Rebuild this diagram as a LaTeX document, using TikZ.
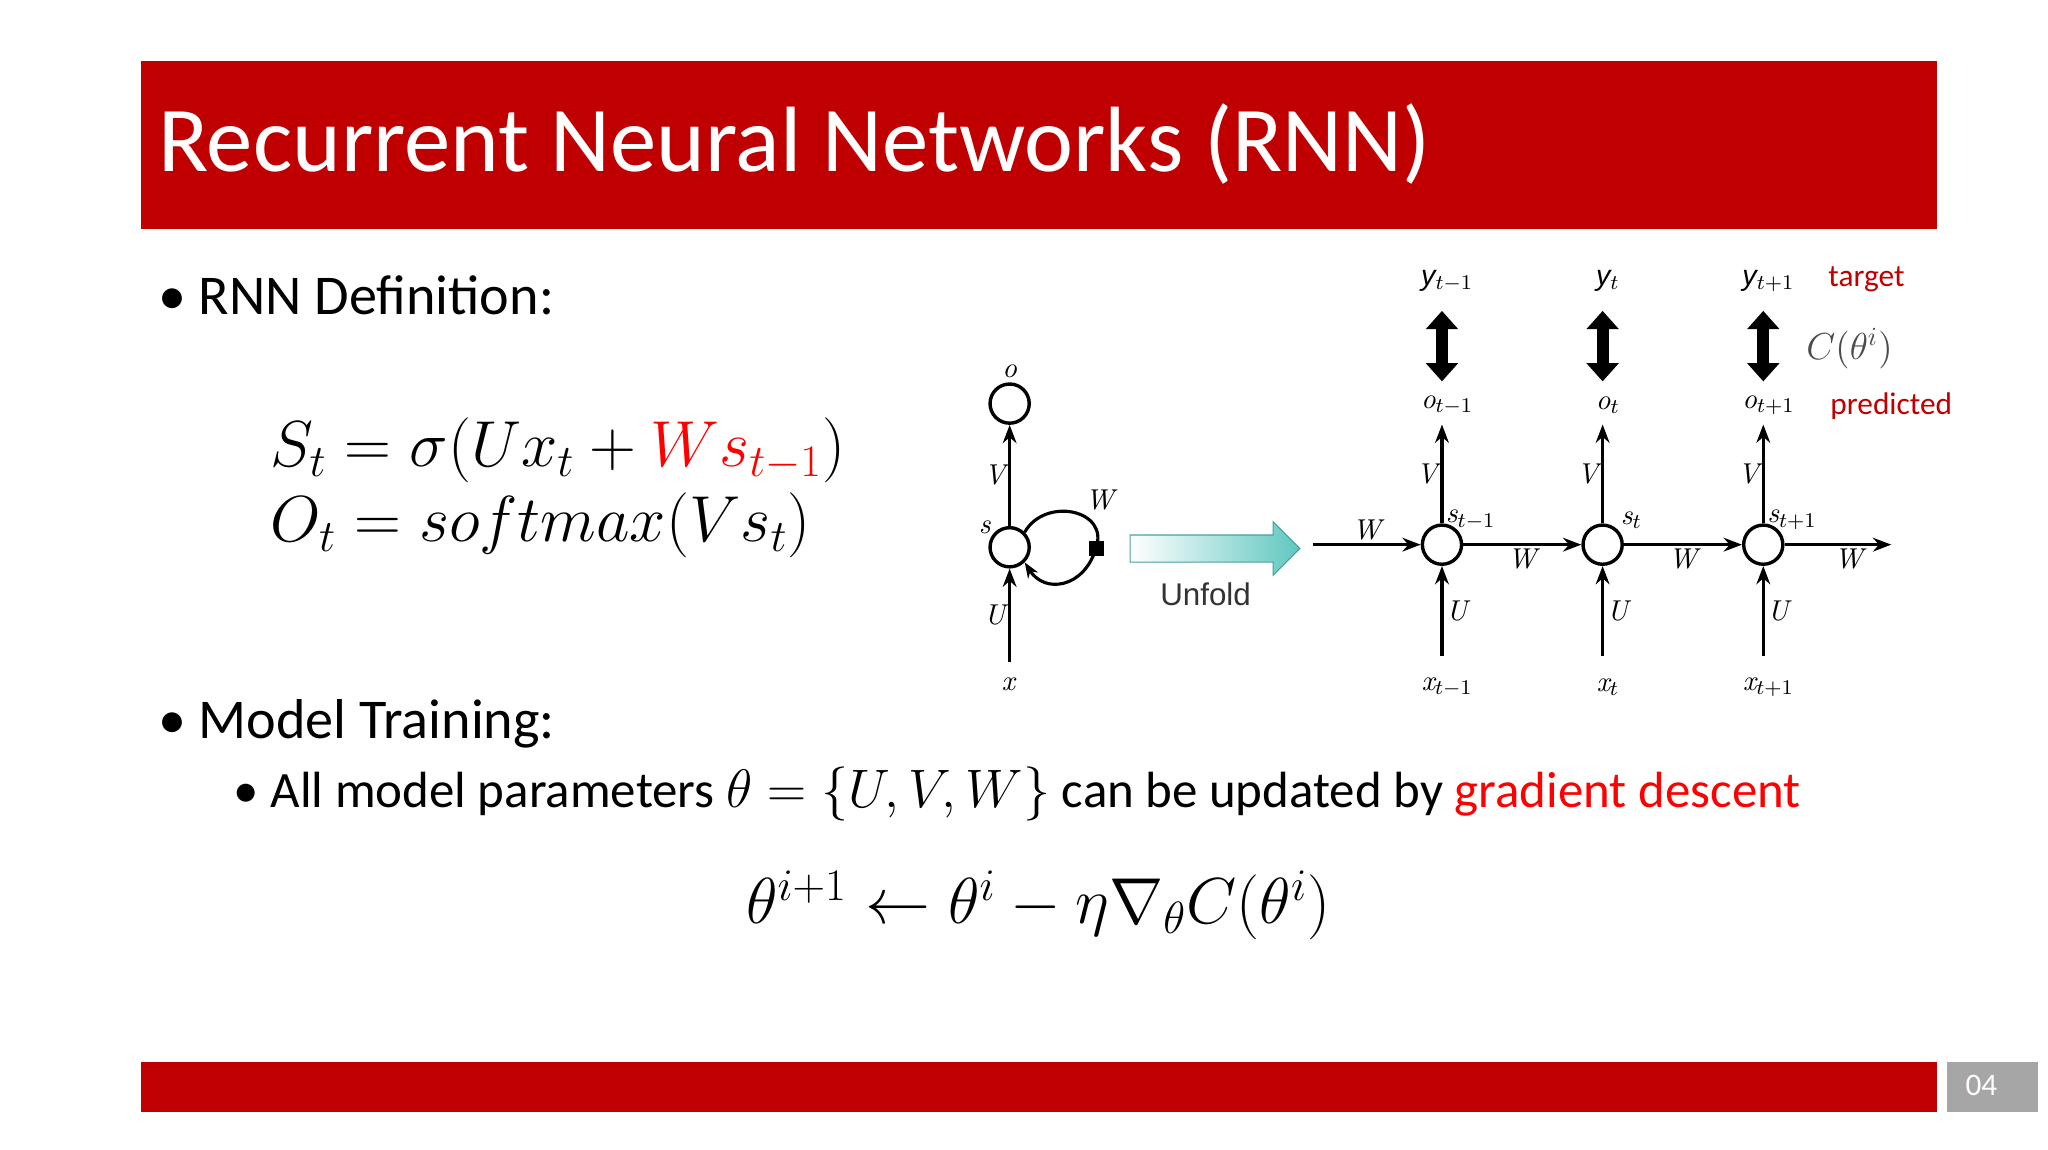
\documentclass[tikz,border=0pt]{standalone}
\usepackage{fontspec}
\setmainfont{Carlito}
\newfontfamily\lmfont{Latin Modern Roman}
\newfontfamily\arialf{Liberation Sans}
\usetikzlibrary{arrows.meta,shapes.arrows}
\definecolor{rred}{HTML}{C00000}
\definecolor{tealc}{HTML}{5FC7C0}
\tikzset{
  neuron/.style={circle,draw,line width=1.3pt,minimum size=15pt,inner sep=0pt},
  arr/.style={-{Stealth[length=7pt]},line width=1.2pt},
  lab/.style={font=\fontsize{11}{11}\selectfont\itshape\lmfont,inner sep=1pt},
  dbl/.style={{Triangle[length=7pt,width=12pt]}-{Triangle[length=7pt,width=12pt]},line width=4.5pt},
}
\begin{document}
\begin{tikzpicture}[x=0.5pt,y=-0.5pt]
\useasboundingbox (0,0) rectangle (1568,880);
\fill[white] (0,0) rectangle (1568,880);
\fill[rred] (108,47) rectangle (1483,175);
\node[anchor=west,text=white,font=\fontsize{35.5}{35.5}\selectfont] (title) at (114,110) {Recurrent Neural Networks (RNN)};
\node[anchor=west,font=\fontsize{21.5}{21.5}\selectfont] (b1) at (114,226) {\textbullet\ RNN Definition:};
\node[anchor=west,font=\fontsize{24}{24}\selectfont] (e1) at (200,345) {$S_t=\sigma(Ux_t+\textcolor{red}{Ws_{t-1}})$};
\node[anchor=west,font=\fontsize{24}{24}\selectfont] (e2) at (200,402) {$O_t=softmax(Vs_t)$};
\node[anchor=west,font=\fontsize{21.5}{21.5}\selectfont] (b2) at (114,554) {\textbullet\ Model Training:};
\node[anchor=west,font=\fontsize{19.5}{19.5}\selectfont] (b3) at (172,608) {\textbullet\ All model parameters $\theta=\{U,V,W\}$ can be updated by \textcolor{red}{gradient descent}};
\node[font=\fontsize{24}{24}\selectfont] (e3) at (795,693) {$\theta^{i+1}\leftarrow\theta^i-\eta\nabla_\theta C\bigl(\theta^i\bigr)$};
\fill[rred] (108,813) rectangle (1483,851);
\fill[black!35] (1491,813) rectangle (1560,851);
\node[text=white,font=\fontsize{12}{12}\selectfont] (pg) at (1517,831) {04};
% folded
\node[neuron] (fo) at (773,309) {};
\node[neuron] (fs) at (773,419) {};
\coordinate (fx) at (773,507);
\node[lab] at (773,284) {o};
\node[lab] at (772,524) {x};
\node[lab] at (754,404) {s};
\draw[arr] (fx) -- (fs) node[lab,midway,left] {U};
\draw[arr] (fs) -- (fo) node[lab,midway,left] {V};
\draw[line width=1.2pt,-{Stealth[length=6pt]}] (fs.north east) .. controls (800,380) and (850,390) .. (839,420) .. controls (830,450) and (800,455) .. (fs.south east);
\fill (834,414) rectangle (845,426);
\node[lab] at (842,383) {W};
% unfold
\node[single arrow,draw=tealc!80!black,minimum height=65pt,inner xsep=0pt,inner ysep=5pt,single arrow head extend=5pt,left color=white,right color=tealc] (un) at (925,420) {};
\node[font=\fontsize{12}{12}\selectfont\arialf,text=black!80] at (923,455) {Unfold};
% unrolled
\coordinate (in) at (1005,417);
\coordinate (out) at (1448,417);
\foreach \n/\xx/\sub in {a/1104/{t-1},b/1227/t,c/1350/{t+1}}{
  \node[neuron] (s\n) at (\xx,417) {};
  \coordinate (o\n) at (\xx,325);
  \coordinate (x\n) at (\xx,502);
  \draw[arr] (x\n) -- (s\n) node[lab,midway,right] {U};
  \draw[arr] (s\n) -- (o\n) node[lab,midway,left] {V};
  \node[lab] at (\xx+4,310) {o$_{\sub}$};
  \node[lab] at (\xx+4,526) {x$_{\sub}$};
  \node[lab] at (\xx+22,398) {s$_{\sub}$};
  \node[font=\fontsize{11}{11}\selectfont\arialf\itshape] at (\xx+4,215) {y$_{\sub}$};
  \draw[dbl] (\xx,238) -- (\xx,292);
}
\draw[arr] (in) -- (sa) node[lab,midway,above] {W};
\draw[arr] (sa) -- (sb) node[lab,midway,below] {W};
\draw[arr] (sb) -- (sc) node[lab,midway,below] {W};
\draw[arr] (sc) -- (out) node[lab,pos=0.6,below] {W};
\node[text=rred,font=\fontsize{12}{12}\selectfont] at (1429,214) {target};
\node[font=\fontsize{14}{14}\selectfont,text=black!70] at (1416,267) {$C(\theta^i)$};
\node[text=rred,font=\fontsize{12}{12}\selectfont] at (1448,311) {predicted};
\end{tikzpicture}
\end{document}
